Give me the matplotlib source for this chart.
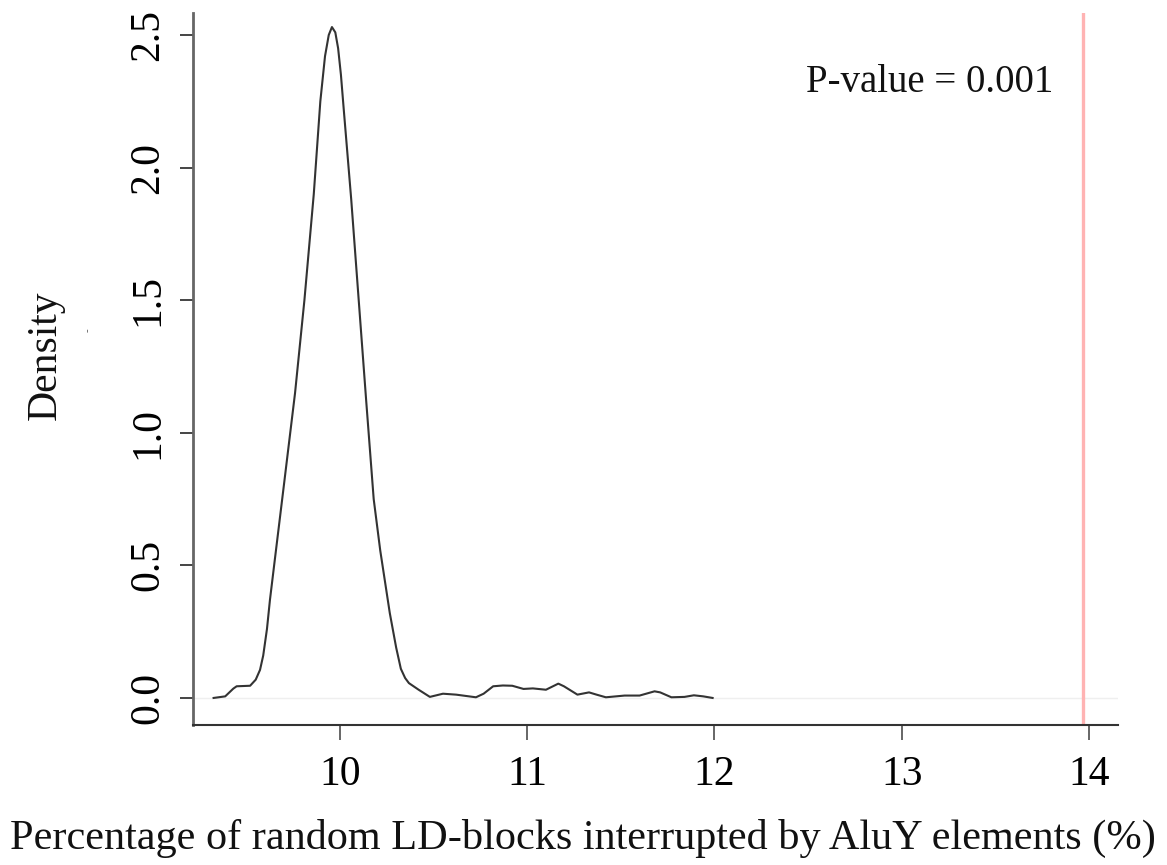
import matplotlib
matplotlib.use("Agg")
import matplotlib.pyplot as plt

# Density curve (x = percentage, y = density)
pct = [9.325, 9.387, 9.43, 9.448, 9.52, 9.55, 9.573, 9.59, 9.61, 9.626, 9.65, 9.70,
       9.76, 9.81, 9.86, 9.895, 9.92, 9.94, 9.957, 9.975, 9.99, 10.005, 10.02,
       10.06, 10.10, 10.14, 10.18, 10.215, 10.266, 10.30, 10.325, 10.348, 10.368,
       10.42, 10.48, 10.55, 10.62, 10.726, 10.767, 10.818, 10.87, 10.92,
       10.98, 11.03, 11.10, 11.166, 11.196, 11.268, 11.33, 11.37, 11.42,
       11.52, 11.60, 11.68, 11.71, 11.77, 11.84, 11.89, 11.94, 11.99]
dens = [0.0, 0.006, 0.035, 0.044, 0.046, 0.069, 0.106, 0.16, 0.26, 0.37, 0.51, 0.80,
        1.15, 1.50, 1.90, 2.25, 2.42, 2.50, 2.53, 2.51, 2.45, 2.35, 2.22,
        1.88, 1.50, 1.12, 0.75, 0.556, 0.32, 0.19, 0.11, 0.075, 0.056,
        0.031, 0.004, 0.016, 0.0125, 0.0025, 0.016, 0.044, 0.047, 0.046,
        0.034, 0.036, 0.031, 0.054, 0.044, 0.0125, 0.021, 0.0125, 0.0025,
        0.009, 0.009, 0.025, 0.021, 0.0025, 0.004, 0.01, 0.006, 0.0]

observed = 13.97
pvalue_text = "P-value = 0.001"
xticks = [10, 11, 12, 13, 14]
yticks = [0.0, 0.5, 1.0, 1.5, 2.0, 2.5]
xlabel = "Percentage of random LD-blocks interrupted by AluY elements (%)"
ylabel = "Density"

W, H = 1167, 865
fig = plt.figure(figsize=(W / 100, H / 100), dpi=100)
ax = fig.add_axes([193 / W, 1 - 725 / H, (1118 - 193) / W, (725 - 13) / H])

serif = ["Liberation Serif", "DejaVu Serif"]

ax.axhline(0, color="#efefef", lw=1.0, zorder=1)
ax.plot(pct, dens, color="#333333", lw=1.5, zorder=3, solid_joinstyle="round")
ax.axvline(observed, color="#ffb3b3", lw=2.4, zorder=2)

ax.set_xlim(9.215, 14.155)
ax.set_ylim(-0.102, 2.583)

for s in ["top", "right"]:
    ax.spines[s].set_visible(False)
ax.spines["left"].set_color("#666666")
ax.spines["left"].set_linewidth(2.0)
ax.spines["bottom"].set_color("#333333")
ax.spines["bottom"].set_linewidth(1.5)

ax.set_xticks(xticks)
ax.set_xticklabels([str(t) for t in xticks], fontfamily=serif, fontsize=30)
ax.set_yticks(yticks)
ax.set_yticklabels([f"{t:.1f}" for t in yticks], fontfamily=serif, fontsize=30,
                   rotation=90, va="center")
ax.tick_params(axis="x", length=10.8, width=1.4, color="#666666", pad=11)
ax.tick_params(axis="y", length=9.4, width=1.4, color="#444444", pad=9)

ax.text(0.796, 0.903, pvalue_text, transform=ax.transAxes, ha="center",
        va="center", fontfamily=serif, fontsize=28, color="#111111")

fig.text(583 / W, 1 - 838 / H, xlabel, ha="center", va="center",
         fontfamily=serif, fontsize=30.4, color="#111111")
fig.text(45 / W, 1 - 355 / H, ylabel, ha="center", va="center", rotation=90,
         fontfamily=serif, fontsize=30, color="#111111")
fig.text(88 / W, 1 - 330 / H, "-", ha="center", va="center", rotation=90,
         fontfamily=serif, fontsize=8, color="#555555")

fig.savefig("out.png", dpi=100)
